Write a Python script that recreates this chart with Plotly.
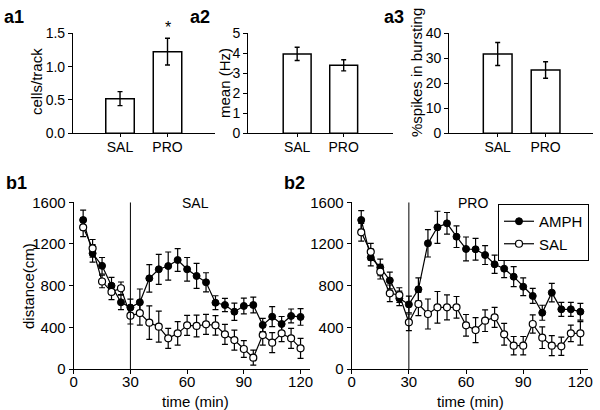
import plotly.graph_objects as go

W, H = 600, 410
FONT = "Liberation Sans, Arial, sans-serif"

# ---- data ----
groups = ["SAL", "PRO"]
cells_track = [0.52, 1.225]
cells_track_err = [0.105, 0.2]
mean_hz = [3.97, 3.40]
mean_hz_err = [0.33, 0.28]
pct_burst = [31.7, 25.3]
pct_burst_err = [4.6, 3.3]

time_min = [5, 10, 15, 20, 25, 30, 35, 40, 45, 50, 55, 60, 65, 70, 75, 80, 85, 90, 95, 100, 105, 110, 115, 120]

b1_amph = [1430, 1110, 990, 800, 640, 590, 640, 870, 957, 988, 1046, 957, 893, 832, 636, 614, 550, 605, 614, 422, 502, 432, 509, 500]
b1_amph_err = [95, 85, 80, 80, 70, 80, 128, 132, 144, 135, 109, 113, 120, 92, 67, 64, 83, 75, 75, 64, 96, 72, 67, 80]
b1_sal = [1360, 1158, 840, 740, 775, 512, 537, 445, 406, 294, 342, 419, 413, 429, 419, 333, 278, 192, 109, 326, 253, 342, 294, 198]
b1_sal_err = [90, 85, 60, 75, 60, 80, 115, 160, 149, 96, 112, 96, 104, 96, 94, 96, 96, 80, 72, 96, 96, 80, 96, 96]

b2_amph = [1430, 1070, 975, 850, 678, 620, 765, 1206, 1360, 1398, 1270, 1152, 1149, 1094, 1005, 963, 886, 790, 701, 540, 733, 573, 573, 550]
b2_amph_err = [90, 80, 80, 80, 70, 80, 110, 131, 154, 104, 104, 115, 104, 91, 88, 86, 96, 85, 72, 72, 88, 67, 67, 80]
b2_sal = [1312, 1125, 934, 726, 710, 448, 624, 528, 592, 592, 592, 419, 374, 464, 496, 333, 224, 224, 432, 301, 224, 218, 342, 342]
b2_sal_err = [85, 80, 70, 80, 70, 80, 112, 144, 152, 120, 104, 104, 120, 104, 96, 104, 88, 88, 88, 104, 96, 88, 80, 112]

y_ticks_b = [0, 400, 800, 1200, 1600]
x_ticks_b = [0, 30, 60, 90, 120]


def px(x):
    return x / W


def py(y):
    return 1 - y / H


fig = go.Figure()

# ---- bar panels ----
bar_panels = [
    ("x", "y", cells_track, cells_track_err),
    ("x2", "y2", mean_hz, mean_hz_err),
    ("x3", "y3", pct_burst, pct_burst_err),
]
for xa, ya, vals, errs in bar_panels:
    fig.add_trace(go.Bar(
        x=[0, 1], y=vals, xaxis=xa, yaxis=ya, width=0.6,
        marker=dict(color="white", line=dict(color="black", width=1.5)),
        error_y=dict(type="data", array=errs, visible=True, color="black",
                     thickness=1.4, width=2.5),
        showlegend=False,
    ))


# ---- line panels ----
def add_lines(xa, ya, amph, amph_err, sal, sal_err, legend):
    fig.add_trace(go.Scatter(
        x=time_min, y=amph, xaxis=xa, yaxis=ya, mode="lines+markers",
        name="AMPH", showlegend=legend,
        line=dict(color="black", width=1.2),
        marker=dict(symbol="circle", size=7, color="black",
                    line=dict(color="black", width=1)),
        error_y=dict(type="data", array=amph_err, visible=True, color="black",
                     thickness=1.2, width=3),
    ))
    fig.add_trace(go.Scatter(
        x=time_min, y=sal, xaxis=xa, yaxis=ya, mode="lines+markers",
        name="SAL", showlegend=legend,
        line=dict(color="black", width=1.2),
        marker=dict(symbol="circle", size=7, color="white",
                    line=dict(color="black", width=1.2)),
        error_y=dict(type="data", array=sal_err, visible=True, color="black",
                     thickness=1.2, width=3),
    ))


add_lines("x4", "y4", b1_amph, b1_amph_err, b1_sal, b1_sal_err, False)
add_lines("x5", "y5", b2_amph, b2_amph_err, b2_sal, b2_sal_err, True)


def axis(fsize, ticklen=4, **kw):
    d = dict(showline=True, linecolor="black", linewidth=1.2,
             ticks="outside", ticklen=ticklen, tickcolor="black", tickwidth=1,
             showgrid=False, zeroline=False, fixedrange=True, automargin=False,
             tickfont=dict(family=FONT, size=fsize, color="black"))
    d.update(kw)
    return d


a_ydom = [py(133.3), py(33.3)]
b_ydom = [py(369), py(202.3)]

fig.update_layout(
    width=W, height=H,
    margin=dict(l=0, r=0, t=0, b=0, pad=0, autoexpand=False),
    paper_bgcolor="white", plot_bgcolor="white",
    font=dict(family=FONT, color="black"),
    xaxis=axis(14, 3, domain=[px(73), px(215)], range=[-0.99, 2.0], anchor="y",
               tickvals=[0, 1], ticktext=groups, ticklabelstandoff=-2),
    yaxis=axis(14, domain=a_ydom, range=[0, 1.5], anchor="x",
               tickvals=[0, 0.5, 1.0, 1.5], tickformat=".1f"),
    xaxis2=axis(14, 3, domain=[px(248.3), px(393)], range=[-1.05, 2.06], anchor="y2",
                tickvals=[0, 1], ticktext=groups, ticklabelstandoff=-2),
    yaxis2=axis(14, domain=a_ydom, range=[0, 5], anchor="x2", tickvals=[0, 1, 2, 3, 4, 5]),
    xaxis3=axis(14, 3, domain=[px(449.3), px(593)], range=[-1.01, 1.99], anchor="y3",
                tickvals=[0, 1], ticktext=groups, ticklabelstandoff=-2),
    yaxis3=axis(14, domain=a_ydom, range=[0, 40], anchor="x3", tickvals=[0, 10, 20, 30, 40]),
    xaxis4=axis(15, domain=[px(73.7), px(310)], range=[0, 125], anchor="y4",
                tickvals=x_ticks_b, ticklabelstandoff=-5),
    yaxis4=axis(15, domain=b_ydom, range=[0, 1600], anchor="x4", tickvals=y_ticks_b),
    xaxis5=axis(15, domain=[px(351.7), px(588)], range=[0, 124], anchor="y5",
                tickvals=x_ticks_b, ticklabelstandoff=-5),
    yaxis5=axis(15, domain=b_ydom, range=[0, 1600], anchor="x5", tickvals=y_ticks_b),
    legend=dict(x=px(589), y=py(204), xanchor="right", yanchor="top",
                bordercolor="black", borderwidth=1, bgcolor="white",
                font=dict(family=FONT, size=15, color="black"),
                tracegroupgap=0, itemwidth=30),
)

# vertical lines at t=30
for xa, ya in [("x4", "y4"), ("x5", "y5")]:
    fig.add_shape(type="line", xref=xa, yref=ya, x0=30, x1=30, y0=0, y1=1600,
                  line=dict(color="black", width=1))

ann = []
title_font = dict(family=FONT, size=15, color="black")
label_font = dict(family=FONT, size=18, color="black")


def paper_text(text, x, y, font, angle=0, xanchor="center", yanchor="middle"):
    ann.append(dict(text=text, x=px(x), y=py(y), xref="paper", yref="paper",
                    showarrow=False, font=font, textangle=angle,
                    xanchor=xanchor, yanchor=yanchor, borderpad=0))


# panel labels
paper_text("<b>a1</b>", 3, 17, label_font, xanchor="left")
paper_text("<b>a2</b>", 189, 17, label_font, xanchor="left")
paper_text("<b>a3</b>", 383, 17, label_font, xanchor="left")
paper_text("<b>b1</b>", 5, 183, label_font, xanchor="left")
paper_text("<b>b2</b>", 283, 183, label_font, xanchor="left")

# axis titles
paper_text("cells/track", 37, 82, title_font, angle=-90)
paper_text("mean (Hz)", 225, 83, title_font, angle=-90)
paper_text("%spikes in bursting", 417, 72, title_font, angle=-90)
paper_text("distance(cm)", 28, 286, title_font, angle=-90)
paper_text("time (min)", 195, 401, title_font)
paper_text("time (min)", 470, 401, title_font)

# condition labels
paper_text("SAL", 195, 203, dict(family=FONT, size=14, color="black"))
paper_text("PRO", 473, 203, dict(family=FONT, size=14, color="black"))

# significance star
ann.append(dict(text="*", x=1, y=1.43, xref="x", yref="y", showarrow=False,
                yanchor="bottom", font=dict(family=FONT, size=16, color="black")))

fig.update_layout(annotations=ann)

fig.write_html("out.html", config={"displayModeBar": False},
               post_script="document.body.style.margin='0px';")
